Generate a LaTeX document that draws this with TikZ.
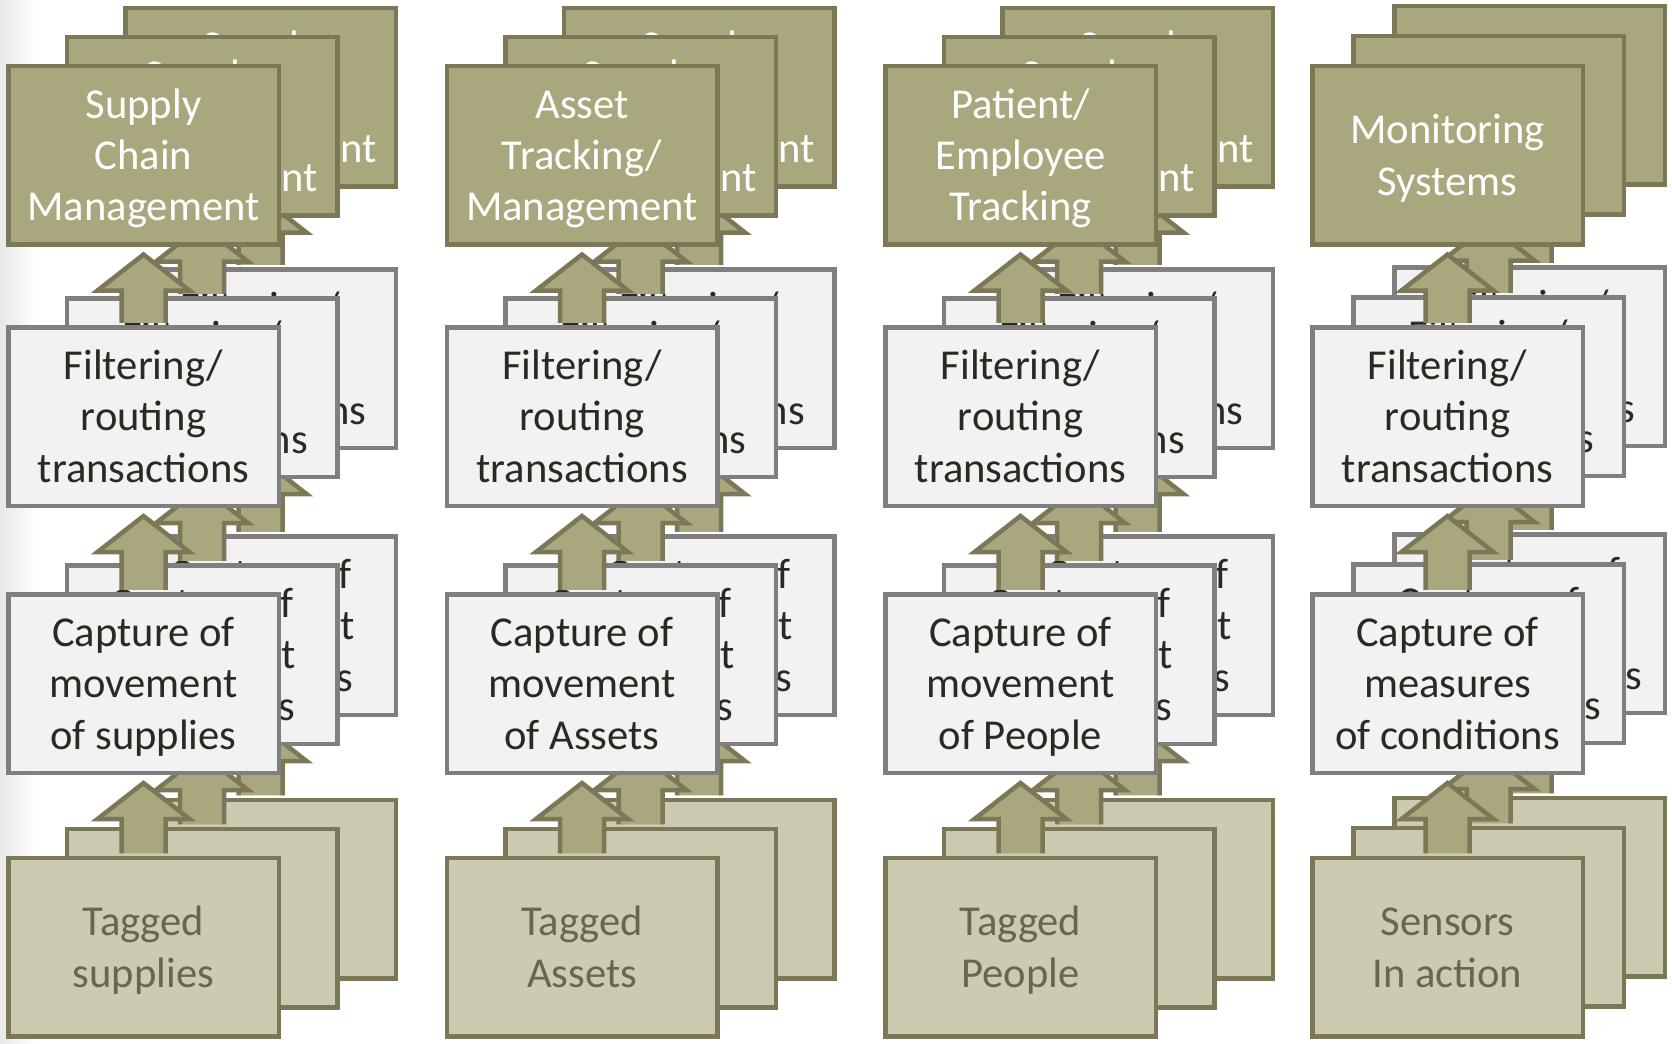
\documentclass[tikz,border=0pt]{standalone}
\usepackage{fontspec}
\setmainfont{Carlito}
\usetikzlibrary{calc}

\definecolor{olivefill}{HTML}{A9A77D}
\definecolor{oliveline}{HTML}{7B7757}
\definecolor{tanfill}{HTML}{CCCAB1}
\definecolor{tantext}{HTML}{6A6649}
\definecolor{grayfill}{HTML}{F2F2F2}
\definecolor{grayline}{HTML}{7F7F7F}
\definecolor{darktext}{HTML}{2B2A20}

% block arrow from the north side of #1 up to the south side of #2
\newcommand{\liftarrow}[2]{%
  \filldraw[uparrow] let \p1=(#1.north), \p2=(#2.south) in
    (\x1-11pt,\y1+1.125pt) -- (\x1-11pt,\y2-22pt) -- (\x1-23pt,\y2-22pt)
    -- (\x1,\y2-4pt) -- (\x1+23pt,\y2-22pt) -- (\x1+11pt,\y2-22pt)
    -- (\x1+11pt,\y1+1.125pt);
}

% one complete stack: name prefix, centre x, centre y of the top row, labels
\newcommand{\tierstack}[7]{%
  \node[appbox, label={[apptext]center:{\strut#4\strut}}] (#1a) at (#2,#3) {};
  \node[procbox, label={[proctext]center:{\strut Filtering/\\routing\\transactions\strut}}] (#1b) at (#2,{#3+261.5}) {};
  \node[procbox, label={[proctext]center:{\strut#5\strut}}] (#1c) at (#2,{#3+528.5}) {};
  \node[srcbox, label={[srctext]center:{\strut#6\\#7\strut}}] (#1d) at (#2,{#3+792}) {};
  \liftarrow{#1d}{#1c}
  \liftarrow{#1c}{#1b}
  \liftarrow{#1b}{#1a}
}

\begin{document}
\begin{tikzpicture}[x=0.5pt,y=-0.5pt,
  tier/.style={rectangle, line width=2.25pt, minimum width=135.25pt,
    minimum height=89.25pt, inner sep=0pt},
  tiertext/.style={inner sep=0pt, align=center, yshift=-2.1pt,
    font=\fontsize{21.3pt}{25.6pt}\selectfont},
  appbox/.style={tier, draw=oliveline, fill=olivefill},
  procbox/.style={tier, draw=grayline, fill=grayfill},
  srcbox/.style={tier, draw=oliveline, fill=tanfill},
  apptext/.style={tiertext, text=white},
  proctext/.style={tiertext, text=darktext},
  srctext/.style={tiertext, text=tantext},
  uparrow/.style={draw=oliveline, fill=olivefill, line width=2.25pt, line join=miter}]

\useasboundingbox (0,0) rectangle (1672,1044);
\fill[white] (0,0) rectangle (1672,1044);
\shade[left color=black!9, right color=white] (0,0) rectangle (36,1044);

% column 1
\tierstack{sA}{260.5}{97}{Supply\\Chain\\Management}{Capture of\\movement\\of supplies}{Tagged}{supplies}
\tierstack{sB}{202}{126}{Supply\\Chain\\Management}{Capture of\\movement\\of supplies}{Tagged}{supplies}
\tierstack{sC}{143.5}{155}{Supply\\Chain\\Management}{Capture of\\movement\\of supplies}{Tagged}{supplies}

% column 2
\tierstack{aA}{699}{97}{Supply\\Chain\\Management}{Capture of\\movement\\of supplies}{Tagged}{supplies}
\tierstack{aB}{640.5}{126}{Supply\\Chain\\Management}{Capture of\\movement\\of supplies}{Tagged}{supplies}
\tierstack{aC}{582}{155}{Asset\\Tracking/\\Management}{Capture of\\movement\\of Assets}{Tagged}{Assets}

% column 3
\tierstack{pA}{1137.5}{97}{Supply\\Chain\\Management}{Capture of\\movement\\of supplies}{Tagged}{supplies}
\tierstack{pB}{1079}{126}{Supply\\Chain\\Management}{Capture of\\movement\\of supplies}{Tagged}{supplies}
\tierstack{pC}{1020.5}{155}{Patient/\\Employee\\Tracking}{Capture of\\movement\\of People}{Tagged}{People}

% column 4
\tierstack{mA}{1529.5}{95}{Monitoring\\Systems}{Capture of\\measures\\of conditions}{Sensors}{In action}
\tierstack{mB}{1488.5}{125}{Monitoring\\Systems}{Capture of\\measures\\of conditions}{Sensors}{In action}
\tierstack{mC}{1447.5}{155}{Monitoring\\Systems}{Capture of\\measures\\of conditions}{Sensors}{In action}

\end{tikzpicture}
\end{document}
